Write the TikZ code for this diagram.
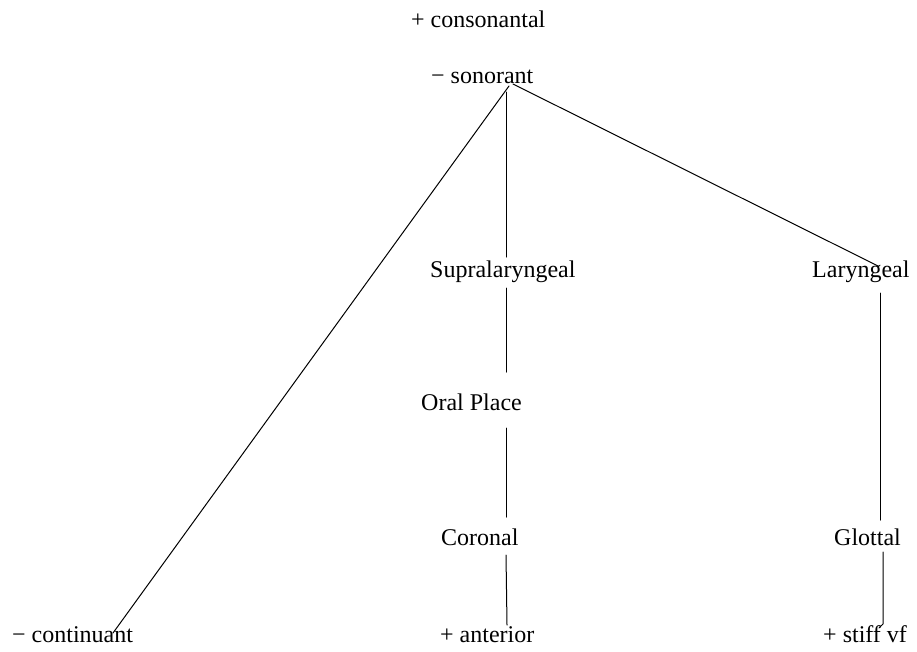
\documentclass[tikz,border=0pt]{standalone}
\usepackage{fontspec}
\setmainfont{Liberation Serif}
\begin{document}
\begin{tikzpicture}[x=1pt,y=-1pt,
  lab/.style={anchor=base west,inner sep=0pt,font=\fontsize{24}{28}\selectfont},
  edge/.style={line width=1pt,line cap=round}]
\useasboundingbox (0,0) rectangle (917,651);
\node[lab] (cons) at (411,27) {+ consonantal};
\node[lab] (son) at (431,83) {− sonorant};
\node[lab] (supra) at (430,277) {Supralaryngeal};
\node[lab] (lar) at (812,277) {Laryngeal};
\node[lab] (oral) at (421,410) {Oral Place};
\node[lab] (cor) at (441,545) {Coronal};
\node[lab] (glot) at (834,545) {Glottal};
\node[lab] (cont) at (12,642) {− continuant};
\node[lab] (ant) at (440,642) {+ anterior};
\node[lab] (stiff) at (823,642) {+ stiff vf};
% connector ends
\coordinate (sonL) at (509,86);
\coordinate (sonM) at (506,92);
\coordinate (sonR) at (513,84);
\coordinate (contT) at (113,633);
\coordinate (supraT) at (506,257);
\coordinate (supraB) at (506,288);
\coordinate (oralT) at (506,372);
\coordinate (oralB) at (506,428);
\coordinate (corT) at (506,517);
\coordinate (corB) at (506,555);
\coordinate (antT) at (507,625);
\coordinate (larT) at (878,266);
\coordinate (larB) at (880,293);
\coordinate (glotT) at (880,520);
\coordinate (glotB) at (883,552);
\coordinate (stiffT) at (883,624);
\draw[edge] (sonL) -- (contT);
\draw[edge] (sonM) -- (supraT);
\draw[edge] (sonR) -- (larT);
\draw[edge] (supraB) -- (oralT);
\draw[edge] (oralB) -- (corT);
\draw[edge] (corB) -- (antT);
\draw[edge] (larB) -- (glotT);
\draw[edge] (glotB) -- (stiffT) -- ++(-4,4);
\end{tikzpicture}
\end{document}
